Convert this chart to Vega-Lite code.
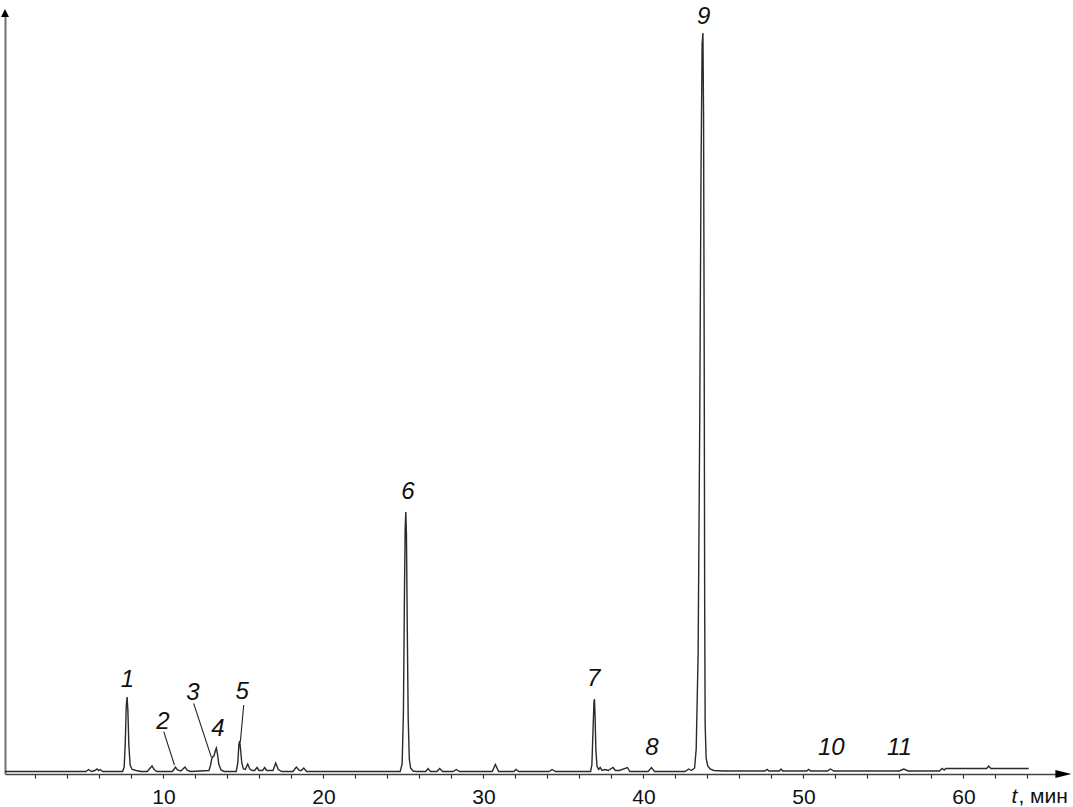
{
  "$schema": "https://vega.github.io/schema/vega-lite/v6.json",
  "width": 1058.4,
  "height": 761,
  "autosize": {"type": "none"},
  "padding": {"left": 5, "top": 13, "right": 9.6, "bottom": 33},
  "background": "white",
  "config": {
    "view": {"stroke": null},
    "font": "Liberation Sans"
  },
  "datasets": {
    "trace": [
      {"t":0.1,"s":2.5},{"t":5.15,"s":2.5},{"t":5.33,"s":4.5},{"t":5.5,"s":2.5},{"t":5.72,"s":3.5},{"t":5.85,"s":5},{"t":5.95,"s":3.5},{"t":6.05,"s":4.5},{"t":6.2,"s":2.5},
      {"t":7.45,"s":2.5},{"t":7.55,"s":7},{"t":7.62,"s":33},{"t":7.68,"s":68},{"t":7.73,"s":77},{"t":7.78,"s":64},{"t":7.84,"s":29},{"t":7.92,"s":9},{"t":8.05,"s":4.5},{"t":8.3,"s":3.5},{"t":8.6,"s":2.5},
      {"t":9.0,"s":2.5},{"t":9.12,"s":5},{"t":9.29,"s":8},{"t":9.42,"s":4.5},{"t":9.6,"s":2.5},
      {"t":10.55,"s":2.5},{"t":10.68,"s":5},{"t":10.75,"s":7},{"t":10.88,"s":4},{"t":11.1,"s":3},{"t":11.22,"s":5},{"t":11.35,"s":7},{"t":11.5,"s":3.5},{"t":11.7,"s":2.5},
      {"t":12.85,"s":3.5},{"t":12.95,"s":9},{"t":13.02,"s":15},{"t":13.08,"s":17},{"t":13.16,"s":18},{"t":13.24,"s":23},{"t":13.31,"s":26},{"t":13.38,"s":20},{"t":13.46,"s":10},{"t":13.6,"s":4},{"t":13.8,"s":2.5},
      {"t":14.55,"s":2.5},{"t":14.65,"s":11},{"t":14.72,"s":30},{"t":14.77,"s":33},{"t":14.82,"s":25},{"t":14.9,"s":11},{"t":15.0,"s":5},{"t":15.12,"s":4.5},{"t":15.27,"s":10},{"t":15.4,"s":5},{"t":15.55,"s":3.5},{"t":15.7,"s":3.5},{"t":15.85,"s":6.5},{"t":15.98,"s":3.5},{"t":16.2,"s":3.5},{"t":16.33,"s":6.5},{"t":16.45,"s":3.5},{"t":16.85,"s":3.5},{"t":17.02,"s":11},{"t":17.18,"s":4.5},{"t":17.4,"s":2.5},
      {"t":18.1,"s":2.5},{"t":18.31,"s":7},{"t":18.5,"s":3.5},{"t":18.62,"s":3.5},{"t":18.77,"s":6},{"t":18.95,"s":2.5},
      {"t":24.8,"s":2.5},{"t":24.92,"s":10},{"t":25.0,"s":60},{"t":25.06,"s":170},{"t":25.11,"s":245},{"t":25.15,"s":262},{"t":25.19,"s":240},{"t":25.24,"s":150},{"t":25.3,"s":55},{"t":25.37,"s":15},{"t":25.45,"s":6},{"t":25.6,"s":3},{"t":25.8,"s":2.5},
      {"t":26.4,"s":2.5},{"t":26.54,"s":5.5},{"t":26.7,"s":2.5},{"t":27.1,"s":2.5},{"t":27.27,"s":5.5},{"t":27.45,"s":2.5},{"t":28.1,"s":2.5},{"t":28.31,"s":4.5},{"t":28.5,"s":2.5},
      {"t":30.55,"s":2.5},{"t":30.75,"s":9.5},{"t":30.95,"s":2.5},
      {"t":31.9,"s":2.5},{"t":32.04,"s":4.5},{"t":32.2,"s":2.5},{"t":34.1,"s":2.5},{"t":34.29,"s":4.5},{"t":34.5,"s":2.5},
      {"t":36.7,"s":2.5},{"t":36.78,"s":9},{"t":36.85,"s":43},{"t":36.91,"s":72},{"t":36.94,"s":75},{"t":36.98,"s":58},{"t":37.03,"s":24},{"t":37.1,"s":8},{"t":37.2,"s":4.5},{"t":37.3,"s":6.5},{"t":37.42,"s":3.5},{"t":37.6,"s":4.5},{"t":37.8,"s":3.5},{"t":38.1,"s":6.5},{"t":38.25,"s":3.5},{"t":38.5,"s":3.5},{"t":39.0,"s":6.5},{"t":39.15,"s":2.5},{"t":40.3,"s":2.5},{"t":40.5,"s":6.5},{"t":40.7,"s":2.5},
      {"t":42.6,"s":2.5},{"t":42.83,"s":5},{"t":43.0,"s":3.5},{"t":43.2,"s":6},{"t":43.3,"s":25},{"t":43.42,"s":120},{"t":43.52,"s":350},{"t":43.6,"s":600},{"t":43.67,"s":730},{"t":43.72,"s":741},{"t":43.76,"s":660},{"t":43.8,"s":420},{"t":43.83,"s":170},{"t":43.86,"s":50},{"t":43.92,"s":16},{"t":44.02,"s":8},{"t":44.17,"s":5},{"t":44.4,"s":3.5},{"t":45.0,"s":3},
      {"t":47.6,"s":3},{"t":47.73,"s":4.5},{"t":47.85,"s":3},{"t":48.5,"s":3},{"t":48.6,"s":5},{"t":48.7,"s":3},{"t":50.2,"s":3},{"t":50.33,"s":4.5},{"t":50.45,"s":3},{"t":51.5,"s":3},{"t":51.69,"s":5},{"t":51.9,"s":3},{"t":56.0,"s":3},{"t":56.27,"s":5},{"t":56.55,"s":3},{"t":58.5,"s":3},{"t":58.67,"s":5.5},{"t":58.8,"s":4},{"t":58.9,"s":5.5},{"t":61.45,"s":5.5},{"t":61.58,"s":8},{"t":61.72,"s":5.5},{"t":64.08,"s":5.5}
    ],
    "labels": [
      {"t":7.75,"s":94,"label":"1"},
      {"t":9.97,"s":52.5,"label":"2"},
      {"t":11.84,"s":81,"label":"3"},
      {"t":13.41,"s":45,"label":"4"},
      {"t":14.92,"s":82.5,"label":"5"},
      {"t":25.28,"s":281.6,"label":"6"},
      {"t":36.89,"s":95,"label":"7"},
      {"t":40.54,"s":26.5,"label":"8"},
      {"t":43.77,"s":757,"label":"9"},
      {"t":51.74,"s":26.5,"label":"10"},
      {"t":56.0,"s":26.5,"label":"11"}
    ],
    "leaders": [
      {"t":10.02,"s":42.3,"t2":10.69,"s2":9},
      {"t":11.89,"s":70.7,"t2":13.0,"s2":16.7},
      {"t":15.02,"s":69,"t2":14.81,"s2":32.3}
    ]
  },
  "encoding": {
    "x": {
      "field": "t", "type": "quantitative",
      "scale": {"domain": [0.1, 66.25], "nice": false, "zero": false},
      "axis": {
        "values": [2,4,6,8,10,12,14,16,18,20,22,24,26,28,30,32,34,36,38,40,42,44,46,48,50,52,54,56,58,60,62,64],
        "labelExpr": "datum.value % 10 === 0 ? datum.label : ''",
        "grid": false, "title": null,
        "tickSize": 4, "tickColor": "#333", "tickWidth": 1.2,
        "domainColor": "#444", "domainWidth": 1.5,
        "labelFont": "Liberation Sans", "labelFontSize": 21, "labelColor": "#111",
        "labelPadding": 8, "labelOverlap": false, "labelFlush": false
      }
    },
    "y": {
      "field": "s", "type": "quantitative",
      "scale": {"domain": [0, 761], "nice": false, "zero": false},
      "axis": {
        "grid": false, "title": null, "ticks": false, "labels": false,
        "domainColor": "#707070", "domainWidth": 2
      }
    }
  },
  "layer": [
    {
      "data": {"name": "trace"},
      "mark": {"type": "line", "color": "#2a2a2a", "strokeWidth": 1.4, "interpolate": "linear"}
    },
    {
      "data": {"name": "leaders"},
      "mark": {"type": "rule", "color": "#222", "strokeWidth": 1.1},
      "encoding": {"x2": {"field": "t2"}, "y2": {"field": "s2"}}
    },
    {
      "data": {"name": "labels"},
      "mark": {"type": "text", "font": "Liberation Sans", "fontStyle": "italic", "fontSize": 24, "color": "#111", "align": "center", "baseline": "middle"},
      "encoding": {"text": {"field": "label"}}
    },
    {
      "data": {"values": [{"t": 0.1, "s": 761}]},
      "mark": {"type": "point", "shape": "M0,-1L1,1L-1,1Z", "size": 64, "filled": true, "color": "#000", "opacity": 1}
    },
    {
      "data": {"values": [{"t": 66.25, "s": 0}]},
      "mark": {"type": "point", "shape": "M1,0L-1,-0.5L-1,0.5Z", "size": 256, "filled": true, "color": "#000", "opacity": 1}
    },
    {
      "data": {"values": [{"t": 63.0, "s": -22.5, "label": "t"}]},
      "mark": {"type": "text", "font": "Liberation Sans", "fontStyle": "italic", "fontSize": 21, "color": "#111", "align": "left", "baseline": "middle"},
      "encoding": {"text": {"field": "label"}}
    },
    {
      "data": {"values": [{"t": 63.44, "s": -22.5, "label": ", мин"}]},
      "mark": {"type": "text", "font": "Liberation Sans", "fontSize": 21, "color": "#111", "align": "left", "baseline": "middle"},
      "encoding": {"text": {"field": "label"}}
    }
  ]
}
